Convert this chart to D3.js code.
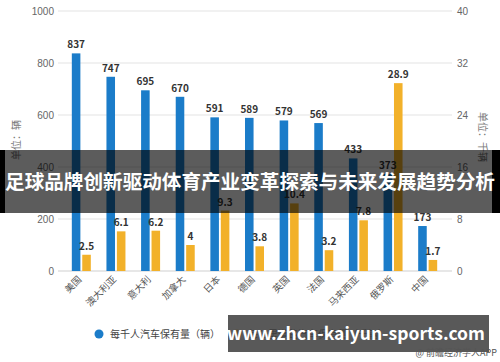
<!DOCTYPE html>
<html><head><meta charset="utf-8">
<script src="https://cdnjs.cloudflare.com/ajax/libs/d3/7.8.5/d3.min.js"></script>
<style>
html,body{margin:0;padding:0;background:#fff;}
svg{display:block;font-family:"Noto Sans CJK SC","Noto Sans",sans-serif;}
</style></head>
<body>
<svg id="chart" width="500" height="362"></svg>
<script>
const categories = ["美国","澳大利亚","意大利","加拿大","日本","德国","英国","法国","马来西亚","俄罗斯","中国"];
const carsPerThousand = [837,747,695,670,591,589,579,569,433,373,173];
const carsPerKm = [2.5,6.1,6.2,4,9.3,3.8,10.4,3.2,7.8,28.9,1.7];
const leftTicks = [0,200,400,600,800,1000];
const rightTicks = [0,8,16,24,32,40];
const seriesNames = ["每千人汽车保有量（辆）","每公里道路汽车保有量（千辆）"];
const leftTitle = "单位：辆";
const rightTitle = "单位：千辆";
const titleText = "足球品牌创新驱动体育产业变革探索与未来发展趋势分析";
const siteText = "www.zhcn-kaiyun-sports.com";
const sourceText = "@ 前瞻经济学人APP";

(function(){
const blue = "#1b7cc9", orange = "#f2b12a";
const svg = d3.select("#chart");
const plotTop = 11, plotBottom = 271, gl = 58, gr = 452;

const yL = d3.scaleLinear().domain([0,1000]).range([plotBottom, plotTop]);
const yR = d3.scaleLinear().domain([0,40]).range([plotBottom, plotTop]);
const x0 = d3.scaleBand().domain(categories).range([64, 445]);
const x1 = d3.scaleBand().domain(["a","b"]).range([x0.bandwidth()/2 - 9.5, x0.bandwidth()/2 + 9.5]).paddingInner(0.18);

// gridlines
svg.append("g").selectAll("line").data(leftTicks).join("line")
  .attr("x1", gl).attr("x2", gr).attr("y1", d => yL(d)).attr("y2", d => yL(d))
  .attr("stroke", d => d === 0 ? "#cfcfcf" : "#e3e3e3").attr("stroke-width", 1);

// left axis
const axL = svg.append("g").attr("transform", `translate(${gl},0)`)
  .call(d3.axisLeft(yL).tickValues(leftTicks).tickFormat(d3.format("d")).tickSize(0).tickPadding(4));
axL.select(".domain").remove();
axL.selectAll("text").attr("fill", "#666").attr("font-size", 10).attr("font-family", "inherit");

// right axis
const axR = svg.append("g").attr("transform", `translate(${gr},0)`)
  .call(d3.axisRight(yR).tickValues(rightTicks).tickFormat(d3.format("d")).tickSize(0).tickPadding(5));
axR.select(".domain").remove();
axR.selectAll("text").attr("fill", "#666").attr("font-size", 10).attr("font-family", "inherit");

// axis titles
svg.append("text").attr("transform", "translate(20,140) rotate(-90)")
  .attr("text-anchor", "middle").attr("font-size", 10).attr("fill", "#777").text(leftTitle);
svg.append("text").attr("transform", "translate(479,137) rotate(90)")
  .attr("text-anchor", "middle").attr("font-size", 10).attr("fill", "#777").text(rightTitle);

// bars
const g = svg.append("g");
const data = categories.map((c, i) => ({c, a: carsPerThousand[i], b: carsPerKm[i]}));
g.selectAll("rect.a").data(data).join("rect").attr("class", "a")
  .attr("x", d => x0(d.c) + x1("a")).attr("width", x1.bandwidth())
  .attr("y", d => yL(d.a)).attr("height", d => plotBottom - yL(d.a)).attr("fill", blue);
g.selectAll("rect.b").data(data).join("rect").attr("class", "b")
  .attr("x", d => x0(d.c) + x1("b")).attr("width", x1.bandwidth())
  .attr("y", d => yR(d.b)).attr("height", d => plotBottom - yR(d.b)).attr("fill", orange);

// value labels
g.selectAll("text.a").data(data).join("text").attr("class", "a")
  .attr("x", d => x0(d.c) + x1("a") + x1.bandwidth()/2).attr("y", d => yL(d.a) - 5)
  .attr("text-anchor", "middle").attr("font-size", 10).attr("font-weight", "bold").attr("fill", "#333")
  .text(d => d.a);
g.selectAll("text.b").data(data).join("text").attr("class", "b")
  .attr("x", d => x0(d.c) + x1("b") + x1.bandwidth()/2).attr("y", d => yR(d.b) - 5)
  .attr("text-anchor", "middle").attr("font-size", 10).attr("font-weight", "bold").attr("fill", "#333")
  .text(d => d.b);

// x labels
svg.append("g").selectAll("text").data(categories).join("text")
  .attr("transform", d => `translate(${x0(d) + x0.bandwidth()/2 + 1},${plotBottom + 9}) rotate(-45)`)
  .attr("text-anchor", "end").attr("font-size", 9.5).attr("fill", "#555").text(d => d);

// legend
const leg = [{n: seriesNames[0], c: blue, x: 99}, {n: seriesNames[1], c: orange, x: 237}];
const lg = svg.append("g").selectAll("g").data(leg).join("g").attr("transform", d => `translate(${d.x},334)`);
lg.append("circle").attr("r", 4.5).attr("fill", d => d.c);
lg.append("text").attr("x", 11).attr("y", 3.5).attr("font-size", 10).attr("fill", "#444").text(d => d.n);

// title banner
svg.append("rect").attr("x", 0).attr("y", 150).attr("width", 500).attr("height", 63).attr("fill", "rgba(0,0,0,0.64)");
svg.append("rect").attr("x", 0).attr("y", 150).attr("width", 5).attr("height", 63).attr("fill", "#000");
svg.append("rect").attr("x", 492).attr("y", 150).attr("width", 8).attr("height", 63).attr("fill", "#000");
svg.append("text").attr("x", 250).attr("y", 189).attr("text-anchor", "middle")
  .attr("font-size", 19.6).attr("font-weight", "bold").attr("fill", "#fff").text(titleText);

// site banner
svg.append("rect").attr("x", 228).attr("y", 315).attr("width", 261).attr("height", 37).attr("fill", "rgba(60,60,60,0.85)");
svg.append("text").attr("x", 356).attr("y", 340).attr("text-anchor", "middle")
  .attr("font-size", 17.5).attr("font-weight", "bold").attr("fill", "#fff").text(siteText);
svg.append("text").attr("x", 497).attr("y", 356).attr("text-anchor", "end")
  .attr("font-size", 9).attr("fill", "#555").text(sourceText);
})();
</script>
</body></html>
